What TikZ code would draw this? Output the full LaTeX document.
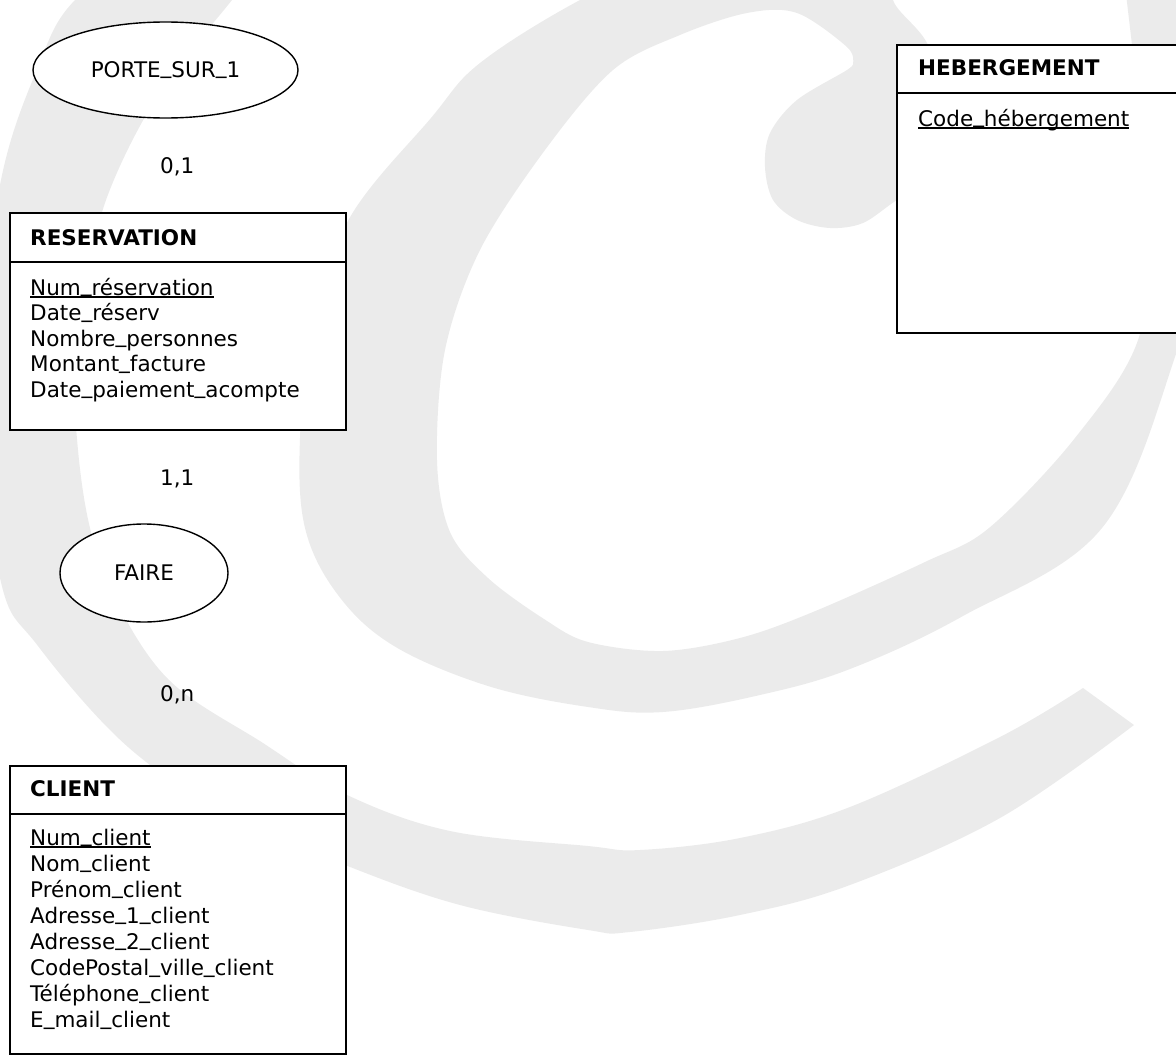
\documentclass[tikz,border=0pt]{standalone}
\usepackage{fontspec}
\setmainfont{DejaVu Sans}
\usetikzlibrary{shapes.geometric}
\definecolor{wm}{RGB}{235,235,235}
\newcommand\us{\raisebox{3.5pt}{\_}}
\newsavebox\keybox
\newcommand\keyattr[1]{\sbox\keybox{#1}\rlap{\rule[-2.6pt]{\wd\keybox}{1.3pt}}\usebox\keybox}
\newcommand\basefont{\fontsize{21.5}{25.8}\selectfont}
\begin{document}
\begin{tikzpicture}[x=1pt, y=-1pt,
  ebox/.style={draw, line width=1.8pt, fill=white, rectangle, inner sep=0pt, outer sep=0pt, anchor=north west},
  etitle/.style={font=\basefont\bfseries, anchor=base west, inner sep=0pt},
  eattr/.style={font=\basefont, anchor=base west, inner sep=0pt},
  assoc/.style={draw, ellipse, line width=1.4pt, fill=white, inner sep=0pt, font=\basefont},
  card/.style={font=\basefont, anchor=base west, inner sep=0pt},
  sepline/.style={line width=1.8pt}]
\useasboundingbox (0,0) rectangle (1176,1057);
% watermark
\begin{scope}
\clip (0,0) rectangle (1176,1057);
\fill[wm] plot[smooth, tension=0.6] coordinates {(160,-60) (75,0) (38,67) (0,185) (-22,380) (0,578) (38,646) (128,747) (230,815) (345,865) (460,905) (588,930) (630,932) (740,915) (850,885) (1000,818) (1134,725)}
  -- plot[smooth, tension=0.6] coordinates {(1083,688) (1000,737) (850,807) (740,838) (640,850) (588,846) (450,831) (345,794) (263,743) (169,680) (113,595) (90,528) (78,450) (75,370) (87,280) (109,192) (160,92) (232,0) (280,-60)} -- cycle;
\fill[wm, even odd rule]
  plot[smooth, tension=0.6] coordinates {(690,-50) (580,0) (480,63) (431,118) (349,219) (312,330) (300,438) (305,528) (338,595) (394,646) (488,686) (588,707) (663,712) (760,695) (850,669) (963,616) (1102,528) (1176,354) (1215,200) (1250,-60)} -- (690,-60) -- cycle
  plot[smooth, tension=0.55] coordinates {(853,63) (847,47) (797,13) (747,13) (680,35) (613,70) (545,150) (480,250) (445,350) (437,460) (450,532) (488,578) (544,619) (588,642) (663,651) (740,638) (813,612) (925,562) (989,528) (1075,438) (1139,337) (1150,200) (1132,45) (1122,-40)}
  -- plot[smooth, tension=0.55] coordinates {(900,-40) (893,0) (927,43) (950,110) (940,175) (897,200) (863,223) (830,228) (797,220) (773,200) (765,167) (770,133) (797,100) (847,70) (853,63)} -- cycle;
\end{scope}
% association ellipses
\node[assoc, minimum width=265pt, minimum height=96pt] (ps1) at (165.5,70) {PORTE\us SUR\us 1};
\node[assoc, minimum width=168pt, minimum height=98pt] (faire) at (144,573) {FAIRE};
% cardinalities
\node[card] (c01) at (160,173.5) {0,1};
\node[card] (c11) at (160,485) {1,1};
\node[card] (c0n) at (160,701) {0,n};
% RESERVATION
\node[ebox, minimum width=336pt, minimum height=217pt] (res) at (10,213) {};
\draw[sepline] ([yshift=-49pt]res.north west) -- ([yshift=-49pt]res.north east);
\node[etitle] (resT) at (30,245) {RESERVATION};
\node[eattr] (resA1) at (30,295) {\keyattr{Num\us réservation}};
\node[eattr] (resA2) at (30,320.5) {Date\us réserv};
\node[eattr] (resA3) at (30,346) {Nombre\us personnes};
\node[eattr] (resA4) at (30,371.5) {Montant\us facture};
\node[eattr] (resA5) at (30,397) {Date\us paiement\us acompte};
% CLIENT
\node[ebox, minimum width=336pt, minimum height=288pt] (cli) at (10,766) {};
\draw[sepline] ([yshift=-48pt]cli.north west) -- ([yshift=-48pt]cli.north east);
\node[etitle] (cliT) at (30,796) {CLIENT};
\node[eattr] (cliA1) at (30,845) {\keyattr{Num\us client}};
\node[eattr] (cliA2) at (30,871.1) {Nom\us client};
\node[eattr] (cliA3) at (30,897.2) {Prénom\us client};
\node[eattr] (cliA4) at (30,923.3) {Adresse\us 1\us client};
\node[eattr] (cliA5) at (30,949.4) {Adresse\us 2\us client};
\node[eattr] (cliA6) at (30,975.5) {CodePostal\us ville\us client};
\node[eattr] (cliA7) at (30,1001.6) {Téléphone\us client};
\node[eattr] (cliA8) at (30,1027.7) {E\us mail\us client};
% HEBERGEMENT
\node[ebox, minimum width=310pt, minimum height=288pt] (heb) at (897,45) {};
\draw[sepline] ([yshift=-48pt]heb.north west) -- ([yshift=-48pt]heb.north east);
\node[etitle] (hebT) at (918,76) {HEBERGEMENT};
\node[eattr] (hebA1) at (918,126) {\keyattr{Code\us hébergement}};
\end{tikzpicture}
\end{document}
